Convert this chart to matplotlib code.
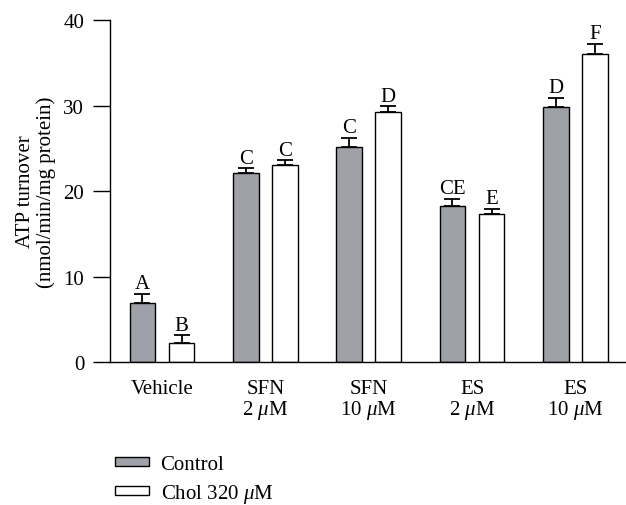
"""ATP turnover bar chart: control vs. cholesterol, per treatment."""
import matplotlib
matplotlib.use("Agg")
import matplotlib.pyplot as plt
import numpy as np
from matplotlib.patches import Patch

plt.rcParams["font.family"] = ["Liberation Serif", "DejaVu Serif"]
plt.rcParams["mathtext.fontset"] = "custom"
plt.rcParams["mathtext.rm"] = "Liberation Serif"
plt.rcParams["mathtext.it"] = "Liberation Serif:italic"

GROUPS = ["Vehicle", "SFN\n2 $\\mu$M", "SFN\n10 $\\mu$M", "ES\n2 $\\mu$M", "ES\n10 $\\mu$M"]
CONTROL = [6.9, 22.1, 25.2, 18.2, 29.8]
CONTROL_ERR = [1.05, 0.55, 1.0, 0.9, 1.1]
CHOL = [2.2, 23.0, 29.2, 17.3, 36.0]
CHOL_ERR = [0.9, 0.6, 0.7, 0.6, 1.2]
CONTROL_LETTERS = ["A", "C", "C", "CE", "D"]
CHOL_LETTERS = ["B", "C", "D", "E", "F"]

GRAY = "#9fa1a8"
FONT = 15

fig = plt.figure(figsize=(6.26, 5.06), dpi=100)
ax = fig.add_axes([0.1757, 0.2826, 0.8243, 0.6759])

x = np.arange(len(GROUPS))
width = 0.247
off = 0.189

for vals, errs, letters, color, dx in (
    (CONTROL, CONTROL_ERR, CONTROL_LETTERS, GRAY, -off),
    (CHOL, CHOL_ERR, CHOL_LETTERS, "white", off),
):
    ax.bar(x + dx, vals, width, color=color, edgecolor="black", linewidth=1.0, zorder=2)
    ax.errorbar(x + dx, vals, yerr=[np.zeros(len(vals)), errs], fmt="none",
                ecolor="black", elinewidth=1.3, capsize=6, capthick=1.3, zorder=1)
    for xi, v, e, lab in zip(x + dx, vals, errs, letters):
        ax.text(xi, v + e + 0.65, lab, ha="center", va="baseline", fontsize=FONT)

ax.set_xlim(-0.503, 4.49)
ax.set_ylim(0, 40)
ax.set_yticks([0, 10, 20, 30, 40])
ax.set_xticks(x)
ax.set_xticklabels(GROUPS, fontsize=FONT, linespacing=0.95)
ax.tick_params(axis="x", length=0, pad=12.5)
ax.tick_params(axis="y", length=12, width=1.0, labelsize=FONT, pad=6.5)
for s in ("top", "right"):
    ax.spines[s].set_visible(False)
for s in ("left", "bottom"):
    ax.spines[s].set_linewidth(1.0)

ax.set_ylabel("ATP turnover\n(nmol/min/mg protein)", fontsize=FONT, labelpad=5,
              linespacing=1.1)

handles = [Patch(facecolor=GRAY, edgecolor="black", linewidth=1.0, label="Control"),
           Patch(facecolor="white", edgecolor="black", linewidth=1.0,
                 label="Chol 320 $\\mu$M")]
fig.legend(handles=handles, loc="upper left", bbox_to_anchor=(0.184, 0.099),
           frameon=False, fontsize=FONT, handlelength=1.6, handleheight=0.3,
           handletextpad=0.58, labelspacing=0.4, borderaxespad=0, borderpad=0)

fig.savefig("out.png", dpi=100)
